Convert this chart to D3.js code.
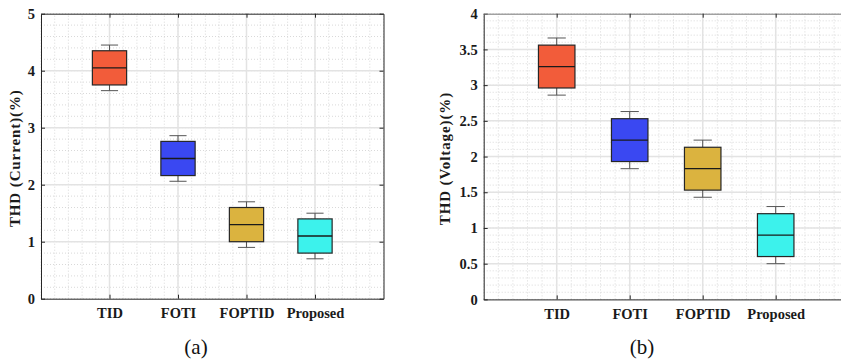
<!DOCTYPE html>
<html>
<head>
<meta charset="utf-8">
<script src="https://cdn.jsdelivr.net/npm/d3@7"></script>
<style>
  body { margin: 0; background: #fff; }
  svg { display: block; }
  text { font-family: "Liberation Serif", "Times New Roman", serif; }
</style>
</head>
<body>
<svg id="chart" width="841" height="361"></svg>
<script>
// categories and box colours
const categories = ['TID', 'FOTI', 'FOPTID', 'Proposed'];
const boxColors = ['#f25c3a', '#3a48f2', '#dbb33f', '#3cf2ec'];

// [min, q1, median, q3, max] per method
const currentTHD = [
	[3.65, 3.75, 4.05, 4.35, 4.45],
	[2.06, 2.16, 2.46, 2.76, 2.86],
	[0.9, 1.0, 1.3, 1.6, 1.7],
	[0.7, 0.8, 1.1, 1.4, 1.5]
];
const voltageTHD = [
	[2.86, 2.96, 3.26, 3.56, 3.66],
	[1.83, 1.93, 2.23, 2.53, 2.63],
	[1.43, 1.53, 1.83, 2.13, 2.23],
	[0.5, 0.6, 0.9, 1.2, 1.3]
];

const currentTicks = [0, 1, 2, 3, 4, 5];
const voltageTicks = [0, 0.5, 1, 1.5, 2, 2.5, 3, 3.5, 4];

const svg = d3.select('#chart');
const serif = '"Liberation Serif", "Times New Roman", serif';

function drawPanel(opt) {
	let x = d3.scaleLinear().domain([0, 5]).range([opt.left, opt.right]);
	let y = d3.scaleLinear().domain([0, opt.yMax]).range([opt.bottom, opt.top]);
	let g = svg.append('g');

	let xMin = d3.range(0, 5.001, 0.2);
	let yMin = d3.range(0, opt.yMax + 0.001, opt.yMinor);

	// minor grid
	g.selectAll('.vminor').data(xMin).join('line')
		.attr('x1', d => x(d)).attr('x2', d => x(d))
		.attr('y1', y(0)).attr('y2', y(opt.yMax))
		.attr('stroke', '#cfcfcf').attr('stroke-width', 0.8).attr('stroke-dasharray', '1,2');
	g.selectAll('.hminor').data(yMin).join('line')
		.attr('x1', x(0)).attr('x2', x(5))
		.attr('y1', d => y(d)).attr('y2', d => y(d))
		.attr('stroke', '#cfcfcf').attr('stroke-width', 0.8).attr('stroke-dasharray', '1,2');

	// major grid
	g.selectAll('.vmajor').data([1, 2, 3, 4]).join('line')
		.attr('x1', d => x(d)).attr('x2', d => x(d))
		.attr('y1', y(0)).attr('y2', y(opt.yMax))
		.attr('stroke', '#e3e3e3').attr('stroke-width', 1.5);
	g.selectAll('.hmajor').data(opt.ticks.slice(1, -1)).join('line')
		.attr('x1', x(0)).attr('x2', x(5))
		.attr('y1', d => y(d)).attr('y2', d => y(d))
		.attr('stroke', '#e3e3e3').attr('stroke-width', 1.5);

	// boxes
	opt.data.forEach((s, i) => {
		let cx = x(i + 1);
		let bw = x(0.5) - x(0);
		let cw = x(0.25) - x(0);
		let b = g.append('g');
		b.append('line').attr('x1', cx).attr('x2', cx).attr('y1', y(s[3])).attr('y2', y(s[4]))
			.attr('stroke', '#555').attr('stroke-width', 1);
		b.append('line').attr('x1', cx).attr('x2', cx).attr('y1', y(s[0])).attr('y2', y(s[1]))
			.attr('stroke', '#555').attr('stroke-width', 1);
		b.append('line').attr('x1', cx - cw / 2).attr('x2', cx + cw / 2).attr('y1', y(s[4])).attr('y2', y(s[4]))
			.attr('stroke', '#555').attr('stroke-width', 1);
		b.append('line').attr('x1', cx - cw / 2).attr('x2', cx + cw / 2).attr('y1', y(s[0])).attr('y2', y(s[0]))
			.attr('stroke', '#555').attr('stroke-width', 1);
		b.append('rect')
			.attr('x', cx - bw / 2).attr('width', bw)
			.attr('y', y(s[3])).attr('height', y(s[1]) - y(s[3]))
			.attr('fill', boxColors[i]).attr('stroke', '#262626').attr('stroke-width', 1.2);
		b.append('line').attr('x1', cx - bw / 2).attr('x2', cx + bw / 2).attr('y1', y(s[2])).attr('y2', y(s[2]))
			.attr('stroke', '#1a1a1a').attr('stroke-width', 1.3);
	});

	// axes, ticks pointing inward
	let left = g.append('g').attr('transform', `translate(${x(0)},0)`)
		.call(d3.axisLeft(y).tickValues(opt.ticks).tickFormat(d => String(d))
			.tickSize(-4).tickSizeOuter(0).tickPadding(6));
	let bottom = g.append('g').attr('transform', `translate(0,${y(0)})`)
		.call(d3.axisBottom(x).tickValues([1, 2, 3, 4]).tickFormat(d => categories[d - 1])
			.tickSize(-4).tickSizeOuter(0).tickPadding(9));
	let top = g.append('g').attr('transform', `translate(0,${y(opt.yMax)})`)
		.call(d3.axisTop(x).tickValues([1, 2, 3, 4]).tickFormat('').tickSize(-4).tickSizeOuter(0));
	let right = g.append('g').attr('transform', `translate(${x(5)},0)`)
		.call(d3.axisRight(y).tickValues(opt.ticks).tickFormat('').tickSize(-4).tickSizeOuter(0));

	[left, bottom, top, right].forEach(a => {
		a.attr('font-family', serif).attr('font-size', 14.5).attr('font-weight', 'bold');
		a.selectAll('path').attr('stroke', '#262626').attr('stroke-width', 1);
		a.selectAll('line').attr('stroke', '#262626');
		a.selectAll('text').attr('fill', '#1a1a1a');
	});
	top.selectAll('path').attr('stroke', opt.borderColor);
	right.selectAll('path').attr('stroke', opt.borderColor);

	// y label
	svg.append('text')
		.attr('transform', `translate(${opt.labelX},${(y(0) + y(opt.yMax)) / 2 + 2}) rotate(-90)`)
		.attr('text-anchor', 'middle')
		.style('font-size', '15px').style('font-weight', 'bold').style('letter-spacing', '0.9px')
		.attr('fill', '#1a1a1a')
		.text(opt.label);

	// caption
	svg.append('text')
		.attr('x', opt.capX).attr('y', 354)
		.attr('text-anchor', 'middle')
		.style('font-size', '21px').attr('fill', '#111')
		.text(opt.caption);
}

drawPanel({
	left: 41, right: 383.5, top: 13.7, bottom: 298.7,
	yMax: 5, yMinor: 0.2, ticks: currentTicks, data: currentTHD,
	label: 'THD (Current)(%)', labelX: 20, caption: '(a)', capX: 196,
	borderColor: '#262626'
});
drawPanel({
	left: 483.7, right: 848.7, top: 13.7, bottom: 299.4,
	yMax: 4, yMinor: 0.1, ticks: voltageTicks, data: voltageTHD,
	label: 'THD (Voltage)(%)', labelX: 450, caption: '(b)', capX: 642,
	borderColor: '#777'
});
</script>
</body>
</html>
